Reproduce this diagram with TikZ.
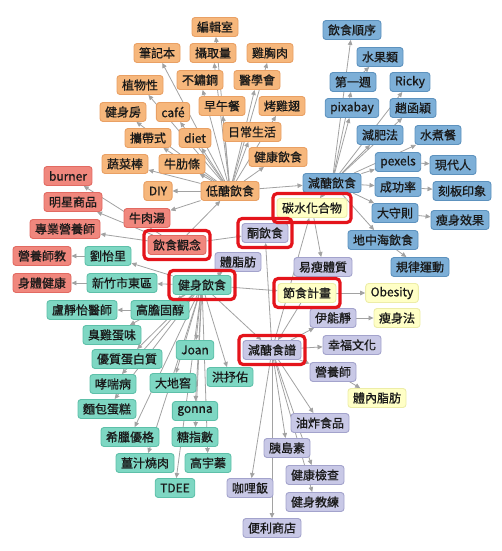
\documentclass[tikz,border=0pt]{standalone}
\usepackage{fontspec}
\setmainfont{Noto Sans CJK TC}
\usetikzlibrary{arrows.meta,fit}
\definecolor{ofill}{HTML}{F6B77C}\definecolor{oline}{HTML}{E9A064}
\definecolor{bfill}{HTML}{7DAFD7}\definecolor{bline}{HTML}{5D92BE}
\definecolor{rfill}{HTML}{F0877D}\definecolor{rline}{HTML}{E26A62}
\definecolor{tfill}{HTML}{7ED7C3}\definecolor{tline}{HTML}{5EC0A9}
\definecolor{pfill}{HTML}{C8C8E6}\definecolor{pline}{HTML}{A3A3CC}
\definecolor{yfill}{HTML}{FFFFC6}\definecolor{yline}{HTML}{EDEDA8}
\definecolor{hlred}{HTML}{E4141B}
\definecolor{edgegray}{HTML}{A2A2A2}
\pgfdeclarelayer{bg}
\pgfsetlayers{bg,main}
\tikzset{
  base/.style={rounded corners=3pt, inner xsep=5pt, inner ysep=2.5pt, minimum height=19pt,
    font=\addfontfeatures{FakeBold=0.8}\fontsize{12}{13}\selectfont, text=black!90, line width=0.9pt},
  on/.style={base, fill=ofill, draw=oline},
  bn/.style={base, fill=bfill, draw=bline},
  rn/.style={base, fill=rfill, draw=rline},
  tn/.style={base, fill=tfill, draw=tline},
  pn/.style={base, fill=pfill, draw=pline},
  yn/.style={base, fill=yfill, draw=yline},
  hl/.style={draw=hlred, line width=3.2pt, rounded corners=4pt, inner xsep=3.5pt, inner ysep=4.5pt},
  e/.style={draw=edgegray, line width=0.8pt, -{Triangle[length=5pt,width=4.5pt]}},
}
\begin{document}
\begin{tikzpicture}[x=1pt,y=-1pt]
\useasboundingbox (0,0) rectangle (501,551);
% orange
\node[on] (o1) at (215,27) {編輯室};
\node[on] (o2) at (157,53) {筆記本};
\node[on] (o3) at (213,53) {攝取量};
\node[on] (o4) at (270,53) {雞胸肉};
\node[on] (o5) at (200,80) {不鏽鋼};
\node[on] (o6) at (257,80) {醫學會};
\node[on] (o7) at (140,85) {植物性};
\node[on] (o8) at (123,112) {健身房};
\node[on] (o9) at (173,112) {café};
\node[on] (o10) at (222,106) {早午餐};
\node[on] (o11) at (282,106) {烤雞翅};
\node[on] (o12) at (148,138) {攜帶式};
\node[on] (o13) at (195,138) {diet};
\node[on] (o14) at (252,132) {日常生活};
\node[on] (o15) at (125,164) {蔬菜棒};
\node[on] (o16) at (182,164) {牛肋條};
\node[on] (o17) at (278,157) {健康飲食};
\node[on] (o18) at (158,191) {DIY};
\node[on] (o19) at (230,191) {低醣飲食};
% blue
\node[bn] (b1) at (352,30) {飲食順序};
\node[bn] (b2) at (380,57) {水果類};
\node[bn] (b3) at (353,82) {第一週};
\node[bn] (b4) at (410,82) {Ricky};
\node[bn] (b5) at (352,108) {pixabay};
\node[bn] (b6) at (413,108) {趙函穎};
\node[bn] (b7) at (380,135) {減肥法};
\node[bn] (b8) at (438,135) {水煮餐};
\node[bn] (b9) at (398,162) {pexels};
\node[bn] (b10) at (453,165) {現代人};
\node[bn] (b11) at (332,183) {減醣飲食};
\node[bn] (b12) at (398,187) {成功率};
\node[bn] (b13) at (462,191) {刻板印象};
\node[bn] (b14) at (395,213) {大守則};
\node[bn] (b15) at (460,220) {瘦身效果};
\node[bn] (b16) at (383,240) {地中海飲食};
\node[bn] (b17) at (420,267) {規律運動};
% center
\node[yn] (c1) at (312,208) {碳水化合物};
\node[pn] (c2) at (265,233) {酮飲食};
\node[pn] (p1) at (238,262) {體脂肪};
\node[pn] (p2) at (323,267) {易瘦體質};
\node[yn] (c3) at (307,293) {節食計畫};
\node[yn] (y1) at (392,293) {Obesity};
\node[pn] (p3) at (333,318) {伊能靜};
\node[yn] (y2) at (397,318) {瘦身法};
\node[pn] (c4) at (272,350) {減醣食譜};
\node[pn] (p4) at (352,345) {幸福文化};
\node[pn] (p5) at (333,372) {營養師};
\node[yn] (y3) at (377,398) {體內脂肪};
\node[pn] (p6) at (320,423) {油炸食品};
\node[pn] (p7) at (287,448) {胰島素};
\node[pn] (p8) at (315,475) {健康檢查};
\node[pn] (p9) at (250,488) {咖哩飯};
\node[pn] (p10) at (315,502) {健身教練};
\node[pn] (p11) at (272,528) {便利商店};
% red
\node[rn] (r1) at (68,176) {burner};
\node[rn] (r2) at (73,202) {明星商品};
\node[rn] (r3) at (147,218) {牛肉湯};
\node[rn] (r4) at (65,229) {專業營養師};
\node[rn] (c5) at (177,245) {飲食觀念};
\node[rn] (r5) at (42,256) {營養師教};
\node[rn] (r6) at (42,283) {身體健康};
% teal
\node[tn] (t1) at (108,256) {劉怡里};
\node[tn] (t2) at (122,283) {新竹市東區};
\node[tn] (c6) at (202,285) {健身飲食};
\node[tn] (t3) at (82,310) {盧靜怡醫師};
\node[tn] (t4) at (160,310) {高膽固醇};
\node[tn] (t5) at (112,335) {臭雞蛋味};
\node[tn] (t6) at (127,359) {優質蛋白質};
\node[tn] (t7) at (195,350) {Joan};
\node[tn] (t8) at (113,384) {哮喘病};
\node[tn] (t9) at (173,383) {大地窖};
\node[tn] (t10) at (230,377) {洪抒佑};
\node[tn] (t11) at (107,409) {麵包蛋糕};
\node[tn] (t12) at (195,411) {gonna};
\node[tn] (t13) at (130,437) {希臘優格};
\node[tn] (t14) at (195,437) {糖指數};
\node[tn] (t15) at (145,463) {薑汁燒肉};
\node[tn] (t16) at (208,463) {高宇蓁};
\node[tn] (t17) at (175,488) {TDEE};
% highlight frames
\node[hl, fit=(c1)] (h1) {};
\node[hl, fit=(c2)] (h2) {};
\node[hl, fit=(c3)] (h3) {};
\node[hl, fit=(c4)] (h4) {};
\node[hl, fit=(c5)] (h5) {};
\node[hl, fit=(c6)] (h6) {};
\begin{pgfonlayer}{bg}
\foreach \n in {o1,o2,o3,o4,o5,o6,o7,o8,o9,o10,o11,o12,o13,o14,o15,o16,o17,o18,r3,b11}
  \draw[e] (o19) -- (\n);
\draw[e] (c5) -- (o19);
\foreach \n in {b1,b3,b4,b5,b6,b7,b8,b9,b12,b14,b16,c1}
  \draw[e] (b11) -- (\n);
\draw[e] (b3) -- (b2);
\draw[e] (b9) -- (b10);
\draw[e] (b12) -- (b13);
\draw[e] (b14) -- (b15);
\draw[e] (b16) -- (b17);
\draw[e] (c1) -- (p2);
\draw[e] (c4) -- (c1);
\draw[e] (c6) -- (c3);
\draw[e] (c3) -- (y1);
\draw[e] (p3) -- (y2);
\draw[e] (c3) -- (c4);
\foreach \n in {p3,p4,p5,p6,p7,p8,p9,p10,p11,c2}
  \draw[e] (c4) -- (\n);
\draw[e] (p5) -- (y3);
\draw[e] (c6) -- (c4);
\draw[e] (c5) -- (c2);
\draw[e] (c6) -- (p1);
\foreach \n in {r1,r2,r4}
  \draw[e] (c5) -- (\n);
\draw[e] (t1) -- (r5);
\draw[e] (t2) -- (r6);
\foreach \n in {t1,t2,t4,t5,t6,t7,t8,t9,t10,t11,t12,t13,t14,t15,t16,t17}
  \draw[e] (c6) -- (\n);
\draw[e] (t4) -- (t3);
\end{pgfonlayer}
\end{tikzpicture}
\end{document}
